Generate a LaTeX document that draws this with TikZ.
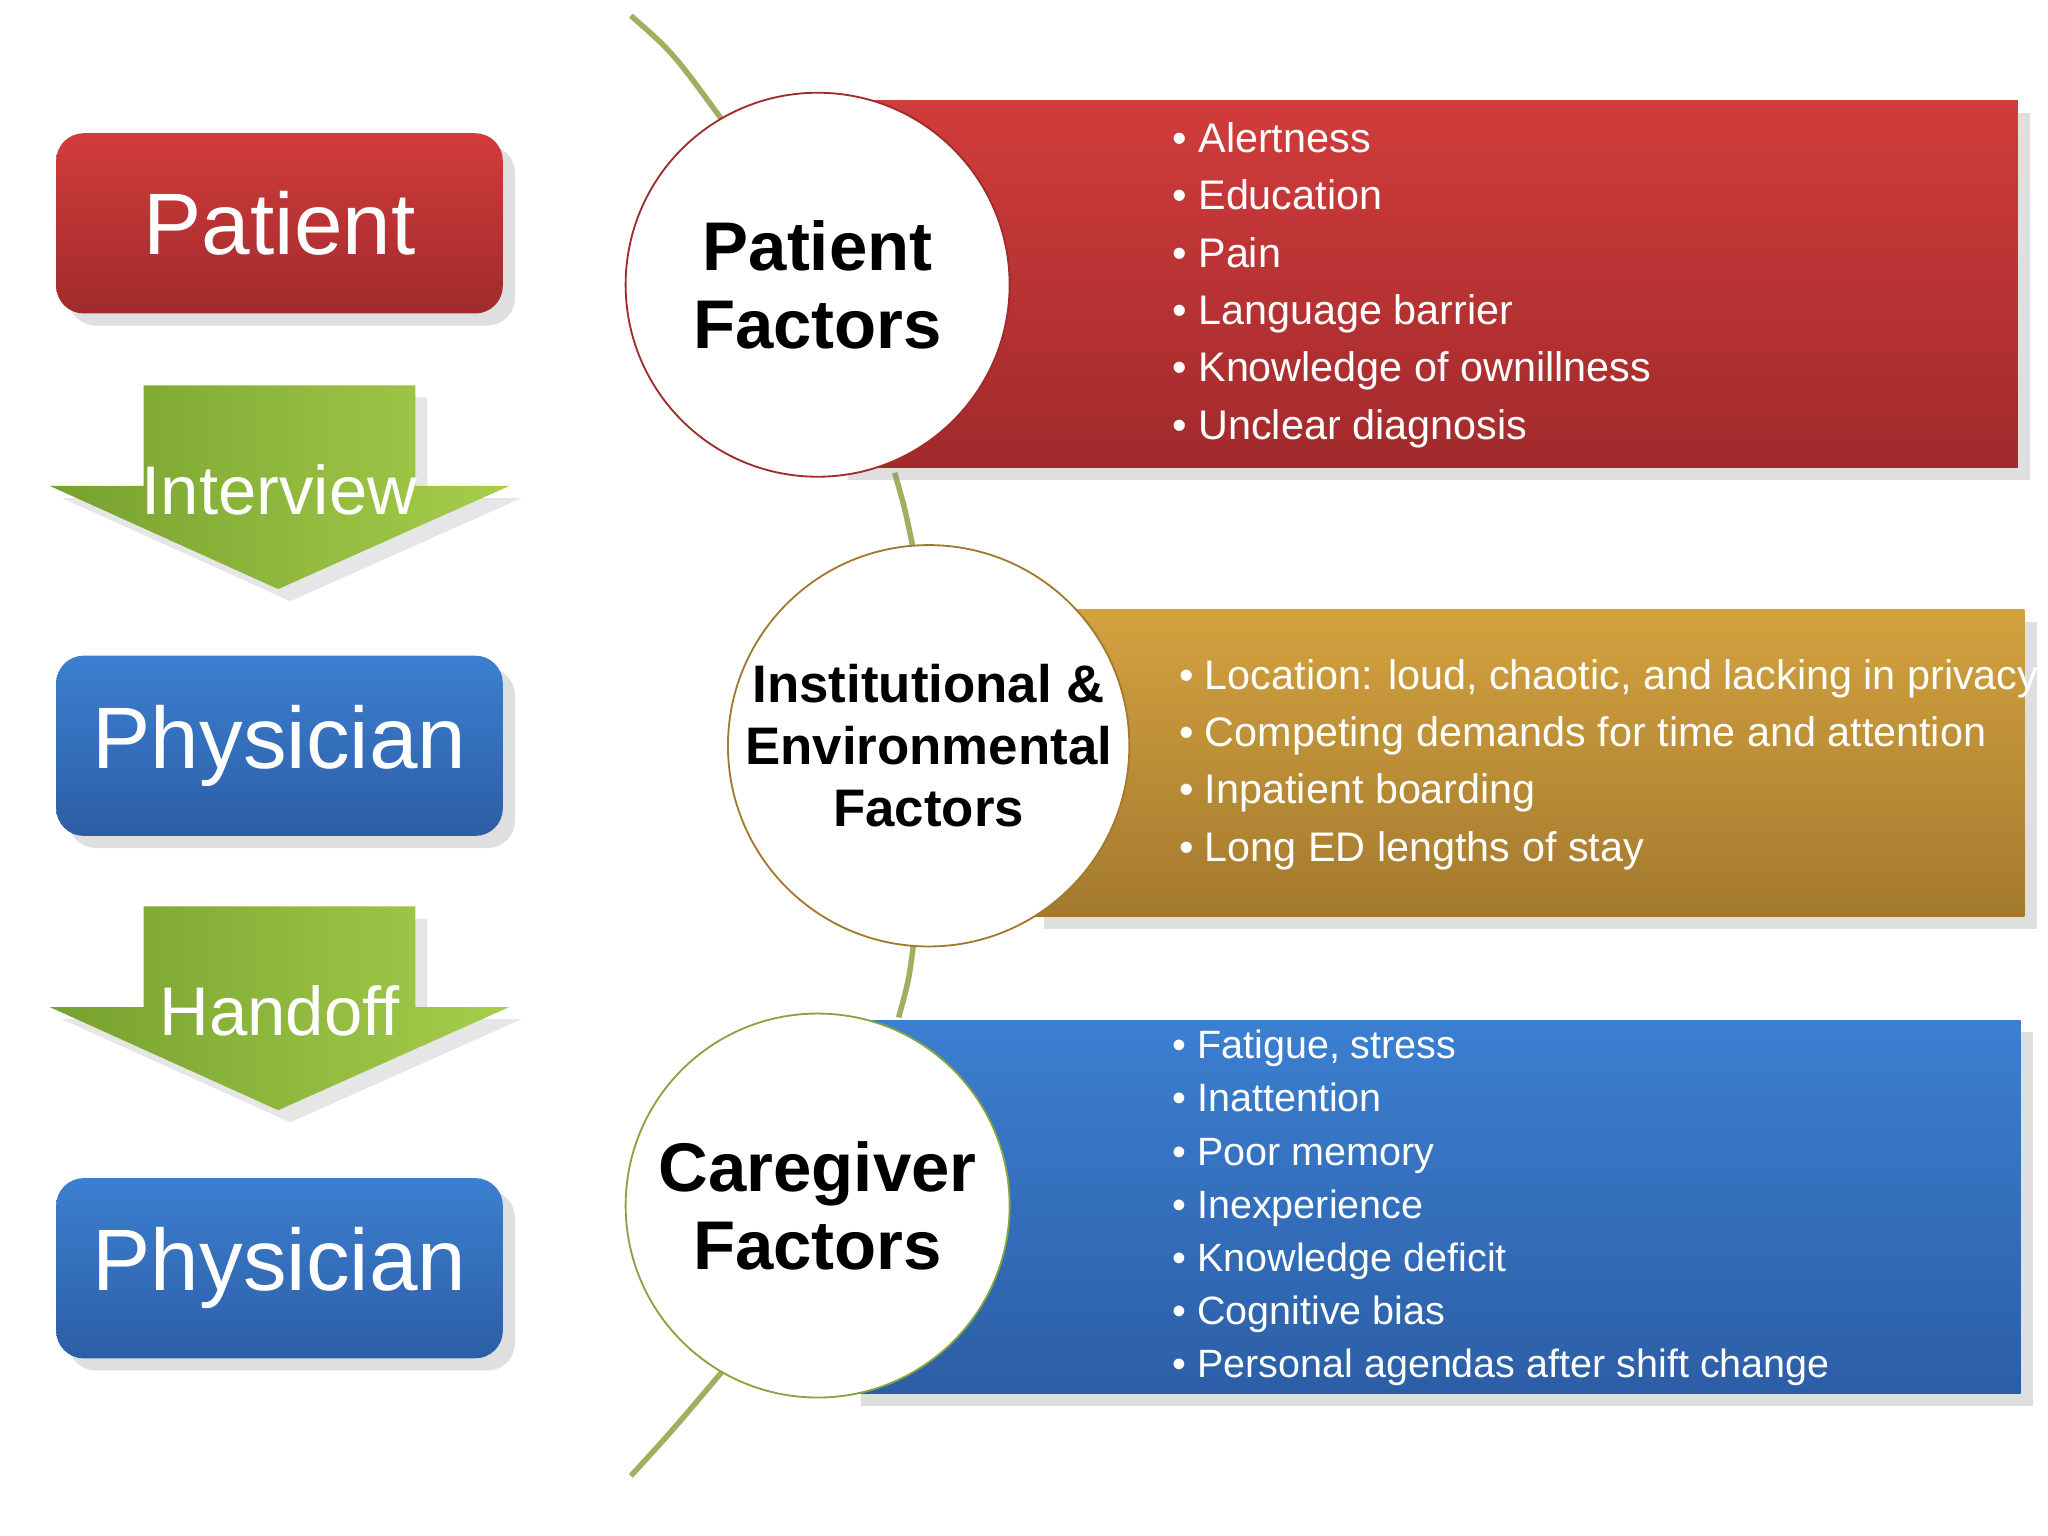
\documentclass[tikz,border=0pt]{standalone}
\usepackage{fontspec}
\setmainfont{Liberation Sans}
\usetikzlibrary{shadows}
\definecolor{redT}{HTML}{D13C3C}\definecolor{redB}{HTML}{A12A2C}
\definecolor{bluT}{HTML}{3C7FD0}\definecolor{bluB}{HTML}{2C5EA6}
\definecolor{golT}{HTML}{D3A23F}\definecolor{golB}{HTML}{A3792E}
\definecolor{grnA}{HTML}{76A12E}\definecolor{grnB}{HTML}{A6CE4C}
\definecolor{vine}{HTML}{A0B060}
\begin{document}
\begin{tikzpicture}[x=0.01cm,y=-0.01cm,
  box/.style={rounded corners=6pt,drop shadow={opacity=0.25}},
  boxtxt/.style={text=white,font=\fontsize{19}{22}\selectfont},
  band/.style={drop shadow={opacity=0.25}},
  circ/.style={circle,draw,fill=white,minimum size=294*0.01cm,inner sep=0pt,align=center,font=\bfseries\fontsize{15}{17}\selectfont},
  list/.style={anchor=north west,text=white,align=left,inner sep=0pt},
  arr/.style={left color=grnA,right color=grnB,drop shadow={opacity=0.2}},
  arrtxt/.style={text=white,font=\fontsize{15}{18}\selectfont},
  vn/.style={draw=vine,line width=1.2pt}]
\useasboundingbox (0,0) rectangle (1568,1176);
% left column
\path[box,top color=redT,bottom color=redB] (43,102) rectangle (385,240);
\node[boxtxt] (pat) at (214,171) {Patient};
\path[box,top color=bluT,bottom color=bluB] (43,502) rectangle (385,640);
\node[boxtxt] (ph1) at (214,571) {Physician};
\path[box,top color=bluT,bottom color=bluB] (43,902) rectangle (385,1040);
\node[boxtxt] (ph2) at (214,971) {Physician};
\foreach \t/\lab in {295/Interview,694/Handoff}{
  \path[arr] (110,\t) -- (318,\t) -- (318,\t+77) -- (390,\t+77) -- (213,\t+156) -- (38,\t+77) -- (110,\t+77) -- cycle;
  \node[arrtxt] at (214,\t+80) {\lab};
}
% vine
\draw[vn] (483,12) .. controls (515,40) .. (553,92);
\draw[vn] (685,362) .. controls (693,390) .. (700,424);
\draw[vn] (700,718) .. controls (696,750) .. (688,779);
\draw[vn] (553,1050) .. controls (515,1095) .. (483,1130);
% bands
\path[band,top color=redT,bottom color=redB] (640,77) rectangle (1545,358);
\path[band,top color=golT,bottom color=golB] (790,467) rectangle (1550,702);
\path[band,top color=bluT,bottom color=bluB] (650,781) rectangle (1547,1067);
% circles
\node[circ,draw=redB] (pf) at (626,218) {Patient\\Factors};
\node[circ,draw=golB,font=\bfseries\fontsize{11.5}{13.5}\selectfont] (ief) at (711,571) {Institutional \&\\Environmental\\Factors};
\node[circ,draw=grnB!80!black] (cf) at (626,923) {Caregiver\\Factors};
% lists
\node[list,font=\fontsize{9}{12.5}\selectfont] (l1) at (897,93) {%
• Alertness\\• Education\\• Pain\\• Language barrier\\• Knowledge of ownillness\\• Unclear diagnosis};
\node[list,font=\fontsize{9}{12.5}\selectfont] (l2) at (902,504) {%
• Location: loud, chaotic, and lacking in privacy\\• Competing demands for time and attention\\• Inpatient boarding\\• Long ED lengths of stay};
\node[list,font=\fontsize{8.6}{11.57}\selectfont] (l3) at (897,788) {%
• Fatigue, stress\\• Inattention\\• Poor memory\\• Inexperience\\• Knowledge deficit\\• Cognitive bias\\• Personal agendas after shift change};
\end{tikzpicture}
\end{document}
